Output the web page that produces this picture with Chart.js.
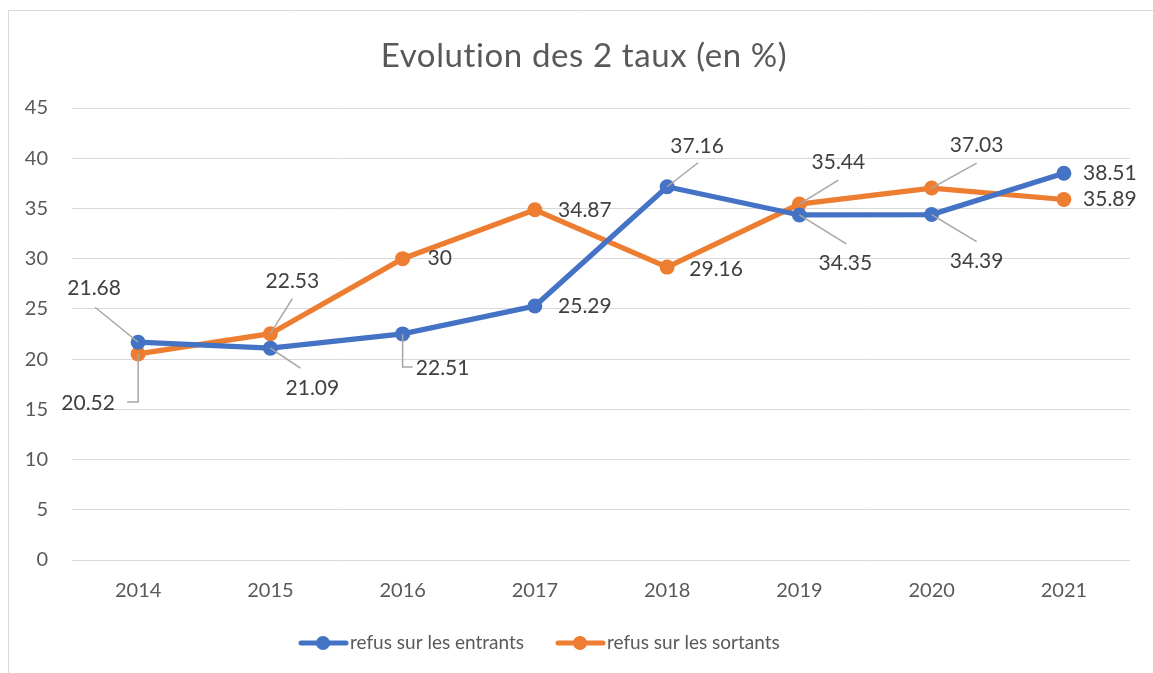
<!DOCTYPE html>
<html>
<head>
<meta charset="utf-8">
<script src="https://cdn.jsdelivr.net/npm/chart.js@4/dist/chart.umd.min.js"></script>
<style>
  html, body { margin: 0; padding: 0; background: #fff; }
  #wrap { width: 1153px; height: 673px; position: relative; }
</style>
</head>
<body>
<div id="wrap"><canvas id="tauxChart" width="1153" height="673"></canvas></div>
<script>
'use strict';

// data
const years = ['2014', '2015', '2016', '2017', '2018', '2019', '2020', '2021'];
const refusEntrants = [21.68, 21.09, 22.51, 25.29, 37.16, 34.35, 34.39, 38.51];
const refusSortants = [20.52, 22.53, 30, 34.87, 29.16, 35.44, 37.03, 35.89];
const seriesNames = ['refus sur les entrants', 'refus sur les sortants'];
const chartTitle = 'Evolution des 2 taux (en %)';

// label placement (offset from the point), leader line ends
const labelPos = [
  [[-44, -54, [[-43, -35]]], [42, 40, [[30, 20]]], [40, 34, [[0, 33], [10, 33]]], [50, 0, null],
   [30, -41, [[31, -24]]], [46, 48, [[47, 29]]], [45, 47, [[45, 27]]], [46, 0, null]],
  [[-50, 49, [[0, 48], [-11, 48]]], [22, -52, [[22, -35]]], [37, 0, null], [50, 0, null],
   [49, 2, null], [39, -42, [[39, -24]]], [45, -43, [[45, -25]]], [46, 0, null]]
];

const FONT = 'Lato, "Open Sans", sans-serif';
const blue = '#4472C4';
const orange = '#ED7D31';

// white background, frame and title
const frame = {
  id: 'frame',
  beforeDraw(chart) {
    const ctx = chart.ctx;
    ctx.save();
    ctx.fillStyle = '#fff';
    ctx.fillRect(0, 0, chart.width, chart.height);
    ctx.strokeStyle = '#d9d9d9';
    ctx.lineWidth = 1;
    ctx.beginPath();
    ctx.moveTo(8.5, chart.height);
    ctx.lineTo(8.5, 10.5);
    ctx.lineTo(chart.width, 10.5);
    ctx.stroke();
    ctx.fillStyle = '#595959';
    ctx.font = '33px ' + FONT;
    ctx.letterSpacing = '0.6px';
    ctx.textAlign = 'center';
    ctx.textBaseline = 'middle';
    ctx.fillText(chartTitle, 584, 56);
    ctx.restore();
  }
};

const valueLabels = {
  id: 'valueLabels',
  afterDatasetsDraw(chart) {
    const ctx = chart.ctx;
    ctx.save();
    chart.data.datasets.forEach((ds, i) => {
      const meta = chart.getDatasetMeta(i);
      meta.data.forEach((pt, j) => {
        const p = labelPos[i][j];
        if (p[2]) {
          ctx.strokeStyle = '#a6a6a6';
          ctx.lineWidth = 1.5;
          ctx.beginPath();
          ctx.moveTo(pt.x, pt.y);
          p[2].forEach(q => ctx.lineTo(pt.x + q[0], pt.y + q[1]));
          ctx.stroke();
        }
        ctx.fillStyle = '#404040';
        ctx.font = '21px ' + FONT;
        ctx.textAlign = 'center';
        ctx.textBaseline = 'middle';
        ctx.fillText(String(ds.data[j]), pt.x + p[0], pt.y + p[1]);
      });
    });
    ctx.restore();
  }
};

const legendLine = {
  id: 'legendLine',
  afterDraw(chart) {
    const ctx = chart.ctx;
    const starts = [301, 558];
    const y = 643;
    ctx.save();
    chart.data.datasets.forEach((ds, i) => {
      const x = starts[i];
      ctx.strokeStyle = ds.borderColor;
      ctx.lineWidth = 5;
      ctx.lineCap = 'round';
      ctx.beginPath();
      ctx.moveTo(x, y);
      ctx.lineTo(x + 45, y);
      ctx.stroke();
      ctx.fillStyle = ds.borderColor;
      ctx.beginPath();
      ctx.arc(x + 22, y, 7, 0, Math.PI * 2);
      ctx.fill();
      ctx.fillStyle = '#595959';
      ctx.font = '19px ' + FONT;
      ctx.textAlign = 'left';
      ctx.textBaseline = 'middle';
      ctx.fillText(ds.label, x + 49, y);
    });
    ctx.restore();
  }
};

const chartGraphics = {
  type: 'line',
  data: {
    labels: years,
    datasets: [{
      label: seriesNames[0],
      data: refusEntrants,
      borderColor: blue,
      backgroundColor: blue,
      borderWidth: 5.25,
      pointRadius: 7.5,
      pointHoverRadius: 7.5,
      pointBorderWidth: 0,
      tension: 0
    }, {
      label: seriesNames[1],
      data: refusSortants,
      borderColor: orange,
      backgroundColor: orange,
      borderWidth: 5.25,
      pointRadius: 7.5,
      pointHoverRadius: 7.5,
      pointBorderWidth: 0,
      tension: 0
    }]
  },
  options: {
    responsive: false,
    animation: false,
    layout: { padding: { left: 8, right: 23, top: 108, bottom: 0 } },
    plugins: {
      legend: { display: false },
      tooltip: { enabled: false },
      title: { display: false }
    },
    scales: {
      x: {
        offset: true,
        grid: { display: false, drawTicks: false },
        border: { display: false },
        ticks: { color: '#595959', font: { family: FONT, size: 20 }, padding: 19 },
        afterFit(s) { s.height = 113; }
      },
      y: {
        min: 0,
        max: 45,
        grid: { color: '#d9d9d9', lineWidth: 1, drawTicks: false },
        border: { display: false },
        ticks: { stepSize: 5, color: '#595959', font: { family: FONT, size: 20 }, padding: 24 },
        afterFit(s) { s.width = 64; }
      }
    }
  },
  plugins: [frame, valueLabels, legendLine]
};

let canvasChart = document.getElementById('tauxChart').getContext('2d');
const myChart = new Chart(canvasChart, chartGraphics);
</script>
</body>
</html>
